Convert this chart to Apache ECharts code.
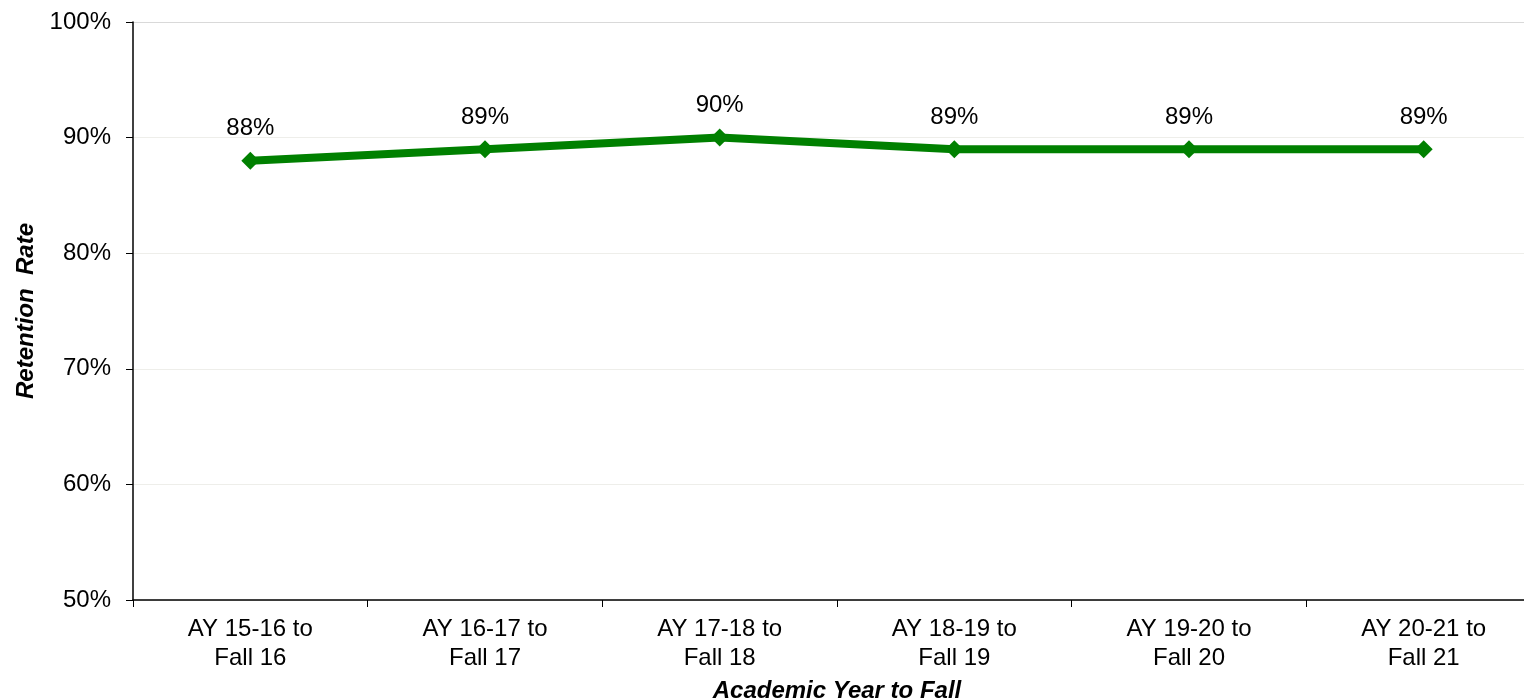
<!DOCTYPE html>
<html><head><meta charset="utf-8">
<script src="https://cdn.jsdelivr.net/npm/echarts@6/dist/echarts.min.js"></script>
<style>html,body{margin:0;padding:0;background:#fff}#c{width:1524px;height:700px}</style>
</head><body><div id="c"></div>
<script>
const categories = ['AY 15-16 to\nFall 16','AY 16-17 to\nFall 17','AY 17-18 to\nFall 18','AY 18-19 to\nFall 19','AY 19-20 to\nFall 20','AY 20-21 to\nFall 21'];
const retention = [88, 89, 90, 89, 89, 89];
const yTicks = [50, 60, 70, 80, 90, 100];
const font = 'Liberation Sans, Arial, sans-serif';
const chart = echarts.init(document.getElementById('c'), null, {renderer:'canvas'});
chart.setOption({
  animation:false,
  grid:{left:133, top:22, bottom:100, width:1408, containLabel:false, outerBoundsMode:'none'},
  xAxis:{
    type:'category', data:categories, boundaryGap:true,
    name:'Academic Year to Fall', nameLocation:'middle', nameGap:79,
    nameTextStyle:{fontFamily:font, fontSize:24, fontWeight:'bold', fontStyle:'italic', color:'#000'},
    axisLine:{lineStyle:{color:'#000', width:1.5}},
    axisTick:{show:true, length:7, lineStyle:{color:'#000'}},
    axisLabel:{fontFamily:font, fontSize:24, color:'#000', margin:15, lineHeight:29, interval:0}
  },
  yAxis:{
    type:'value', min:yTicks[0], max:yTicks[yTicks.length-1], interval:10,
    name:'Retention  Rate', nameLocation:'middle', nameGap:90, nameRotate:90,
    nameTextStyle:{fontFamily:font, fontSize:24, fontWeight:'bold', fontStyle:'italic', color:'#000'},
    axisLine:{show:true, lineStyle:{color:'#000', width:1.5}},
    axisTick:{show:true, length:7, lineStyle:{color:'#000'}},
    axisLabel:{fontFamily:font, fontSize:24, color:'#000', margin:22, formatter:v=>v+'%'},
    splitLine:{show:true, lineStyle:{color:['#eeeeea','#eeeeea','#eeeeea','#eeeeea','#eeeeea','#d9d9d9'], width:1}}
  },
  series:[{
    type:'line', data:retention,
    symbol:'diamond', symbolSize:18,
    lineStyle:{color:'#008000', width:8},
    itemStyle:{color:'#008000'},
    label:{show:true, position:'top', distance:11, fontFamily:font, fontSize:24, color:'#000', formatter:p=>p.value+'%'}
  }]
});
</script></body></html>
